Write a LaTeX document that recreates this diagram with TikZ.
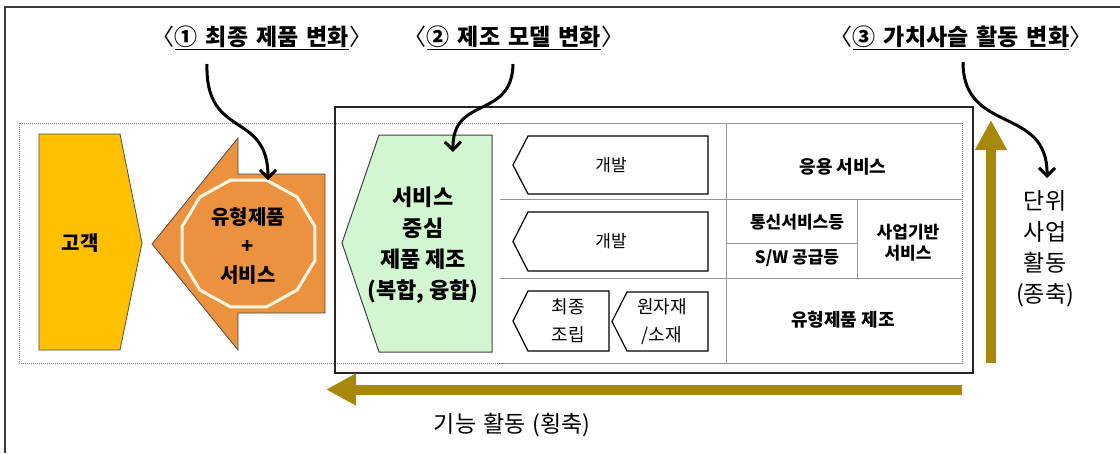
\documentclass[tikz,border=0pt]{standalone}
\usepackage{fontspec}
\setmainfont{Noto Sans CJK KR}
\usetikzlibrary{arrows.meta}
\definecolor{gold}{RGB}{168,136,12}
\definecolor{yel}{RGB}{255,192,0}
\definecolor{org}{RGB}{236,146,62}
\definecolor{grn}{RGB}{210,246,208}
\definecolor{tbl}{RGB}{150,150,150}
\definecolor{frm}{RGB}{60,60,60}
\definecolor{cream}{RGB}{255,246,228}
\newcommand{\myfs}[2]{\fontsize{#1}{#2}\selectfont}
\newcommand{\wsp}{\hspace{0.3em}}
\newcommand{\tsp}{\hspace{0.35em}}
\newcommand{\lbr}{\kern-0.5em{\mdseries 〈}}
\newcommand{\rbr}{{\mdseries 〉}\kern-0.5em}
\begin{document}
\begin{tikzpicture}[x=1pt,y=-1pt,
  lbl/.style={inner sep=0pt, align=center},
  titletxt/.style={lbl, font=\myfs{23}{27}\bfseries},
  boldtxt/.style={lbl, font=\myfs{20}{29}\bfseries},
  tbltxt/.style={lbl, font=\myfs{17}{21}\bfseries},
  smalltxt/.style={lbl, font=\myfs{18}{28}},
  axistxt/.style={lbl, font=\myfs{23}{31}},
  chev/.style={draw=black, line width=1.2pt, fill=white},
  grid/.style={draw=tbl, line width=0.8pt},
  curvearrow/.style={draw=black, line width=3pt, -{Straight Barb[length=8pt,width=16pt]}},
  goldarrow/.style={draw=gold, line width=10pt, -{Triangle[length=30pt,width=30pt]}}
]
\useasboundingbox (0,0) rectangle (1120,453);
\fill[white] (0,0) rectangle (1120,453);
% outer frame
\draw[frm, line width=1.5pt] (5,453) -- (5,7) -- (1120,7);
% dotted band
\draw[gray, line width=0.8pt, dash pattern=on 1pt off 1pt] (19,123) rectangle (962,363);
% main box
\draw[black!85, line width=1.3pt] (335,107) rectangle (973,373);
% table grid
\draw[grid] (500,123) -- (962,123);
\draw[grid] (500,363) -- (962,363);
\draw[grid] (500,199) -- (962,199);
\draw[grid] (500,278) -- (962,278);
\draw[grid] (726,123) -- (726,363);
\draw[grid] (726,243) -- (857,243);
\draw[grid] (857,199) -- (857,278);
% customer shape
\draw[fill=yel, draw=black!70, line width=0.8pt] (39,134) -- (120,134) -- (142,243) -- (120,350) -- (39,350) -- cycle;
\node[boldtxt] (cust) at (80,243) {고객};
% orange arrow
\draw[fill=org, draw=black!70, line width=0.8pt] (152,244) -- (238,138) -- (238,174) -- (325,174) -- (325,313) -- (238,313) -- (238,350) -- cycle;
\draw[cream, line width=3pt] (248.5,243.5) +(15:68.8 and 65.7)
  \foreach \a in {45,75,...,345} { -- +(\a:68.8 and 65.7) } -- cycle;
\node[boldtxt] (prod) at (248,246) {유형제품\\+\\서비스};
% green shape
\draw[fill=grn, draw=black!75, line width=1pt] (379,135) -- (492,135) -- (492,352) -- (379,352) -- (342,243) -- cycle;
\node[lbl, font=\myfs{22}{31}\bfseries] (svc) at (423,245) {서비스\\중심\\제품 제조\\(복합, 융합)};
% chevrons
\draw[chev] (513,165) -- (528,136) -- (708,136) -- (708,194) -- (528,194) -- cycle;
\node[lbl, font=\myfs{17}{21}] (dev1) at (611,165) {개발};
\draw[chev] (513,241.5) -- (528,212) -- (708,212) -- (708,271) -- (528,271) -- cycle;
\node[lbl, font=\myfs{17}{21}] (dev2) at (611,241.5) {개발};
\draw[chev] (513,321) -- (528,291) -- (609,291) -- (609,351) -- (528,351) -- cycle;
\node[smalltxt] (asm) at (568,321) {최종\\조립};
\draw[chev] (612,321.5) -- (627,292) -- (708,292) -- (708,351) -- (627,351) -- cycle;
\node[smalltxt] (raw) at (662,322) {원자재\\/소재};
% table texts
\node[lbl, font=\myfs{18}{22}\bfseries] (app) at (843,167) {응용 서비스};
\node[tbltxt] (tel) at (797,222) {통신서비스등};
\node[tbltxt] (sw) at (797,258) {S/W 공급등};
\node[tbltxt] (biz) at (908,243) {사업기반\\서비스};
\node[lbl, font=\myfs{18}{22}\bfseries] (mfg) at (843,320) {유형제품 제조};
% gold arrows
\coordinate (vs) at (991,363);
\coordinate (ve) at (991,120);
\coordinate (hs) at (962,389.5);
\coordinate (he) at (326,389.5);
\draw[goldarrow] (vs) -- (ve);
\draw[goldarrow] (hs) -- (he);
\node[axistxt] (horiz) at (512,425) {기능\wsp 활동\wsp (횡축)};
\node[axistxt] (vert) at (1045,249) {단위\\사업\\활동\\(종축)};
% titles
\node[titletxt] (t1) at (262,38) {\lbr\underline{①\tsp 최종\tsp 제품\tsp 변화}\rbr};
\node[titletxt] (t2) at (514,38) {\lbr\underline{②\tsp 제조\tsp 모델\tsp 변화}\rbr};
\node[titletxt] (t3) at (961,38) {\lbr\underline{③\tsp 가치사슬\tsp 활동\tsp 변화}\rbr};
% curved arrows
\coordinate (a1s) at (207,64);
\coordinate (a1e) at (268,180);
\coordinate (a2s) at (513,64);
\coordinate (a2e) at (453,152);
\coordinate (a3s) at (963,62);
\coordinate (a3e) at (1047,178);
\draw[curvearrow] (a1s) .. controls (205,140) and (268,110) .. (a1e);
\draw[curvearrow] (a2s) .. controls (512,120) and (452,95) .. (a2e);
\draw[curvearrow] (a3s) .. controls (963,135) and (1048,105) .. (a3e);
\end{tikzpicture}
\end{document}
